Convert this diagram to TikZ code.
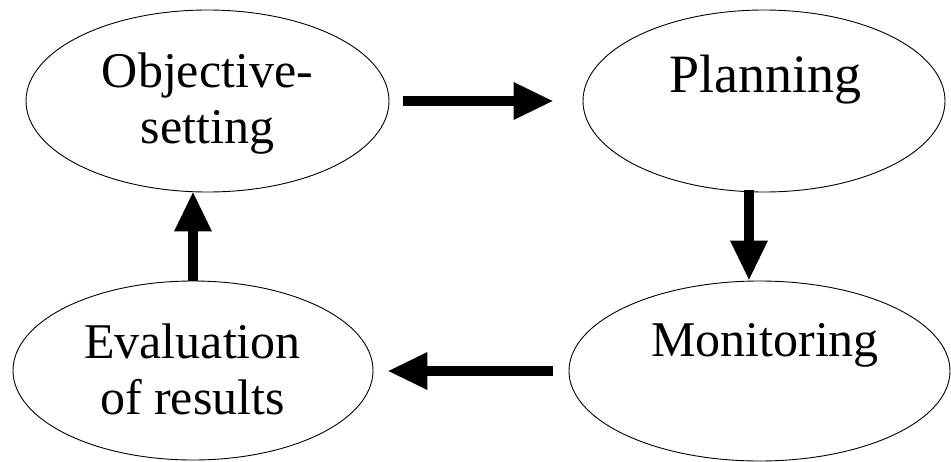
\documentclass[tikz,border=0pt]{standalone}
\usepackage{fontspec}
\setmainfont{Liberation Serif}
\usetikzlibrary{shapes.geometric,arrows.meta,calc}
\begin{document}
\begin{tikzpicture}[x=1pt,y=-1pt,
  ell/.style={draw=black,line width=0.9pt,ellipse,inner sep=0pt},
  lbl/.style={font=\fontsize{50}{56}\selectfont,align=center,inner sep=0pt},
  arr/.style={line width=9.5pt,-{Triangle[length=39pt,width=38pt,line width=0pt]}}]
\useasboundingbox[fill=white] (0,0) rectangle (951,461);
% ellipses
\node[ell,minimum width=363pt,minimum height=182pt] (obj) at (207.5,101) {};
\node[ell,minimum width=362pt,minimum height=182pt] (plan) at (764,101) {};
\node[ell,minimum width=381pt,minimum height=180pt] (mon) at (759.5,371) {};
\node[ell,minimum width=360pt,minimum height=179pt] (eval) at (193,370.5) {};
% labels
\node[lbl] (objT) at (207.5,104) {Objective-\\setting};
\node[lbl,font=\fontsize{54}{60}\selectfont] (planT) at (765,79.5) {Planning};
\node[lbl] (monT) at (765,345.5) {Monitoring};
\node[lbl] (evalT) at (192.5,369) {Evaluation\\of results};
% arrows
\draw[arr,shorten <=14pt,shorten >=30pt] (obj.east) -- (plan.west);
\draw[arr] ($(plan.south)+(-15,-2)$) -- ($(mon.north)+(-10.5,-1)$);
\draw[arr,shorten <=16pt,shorten >=15pt] (mon.west) -- (mon.west -| eval.east);
\draw[arr] (eval.north) -- (eval.north |- obj.south);
\end{tikzpicture}
\end{document}
